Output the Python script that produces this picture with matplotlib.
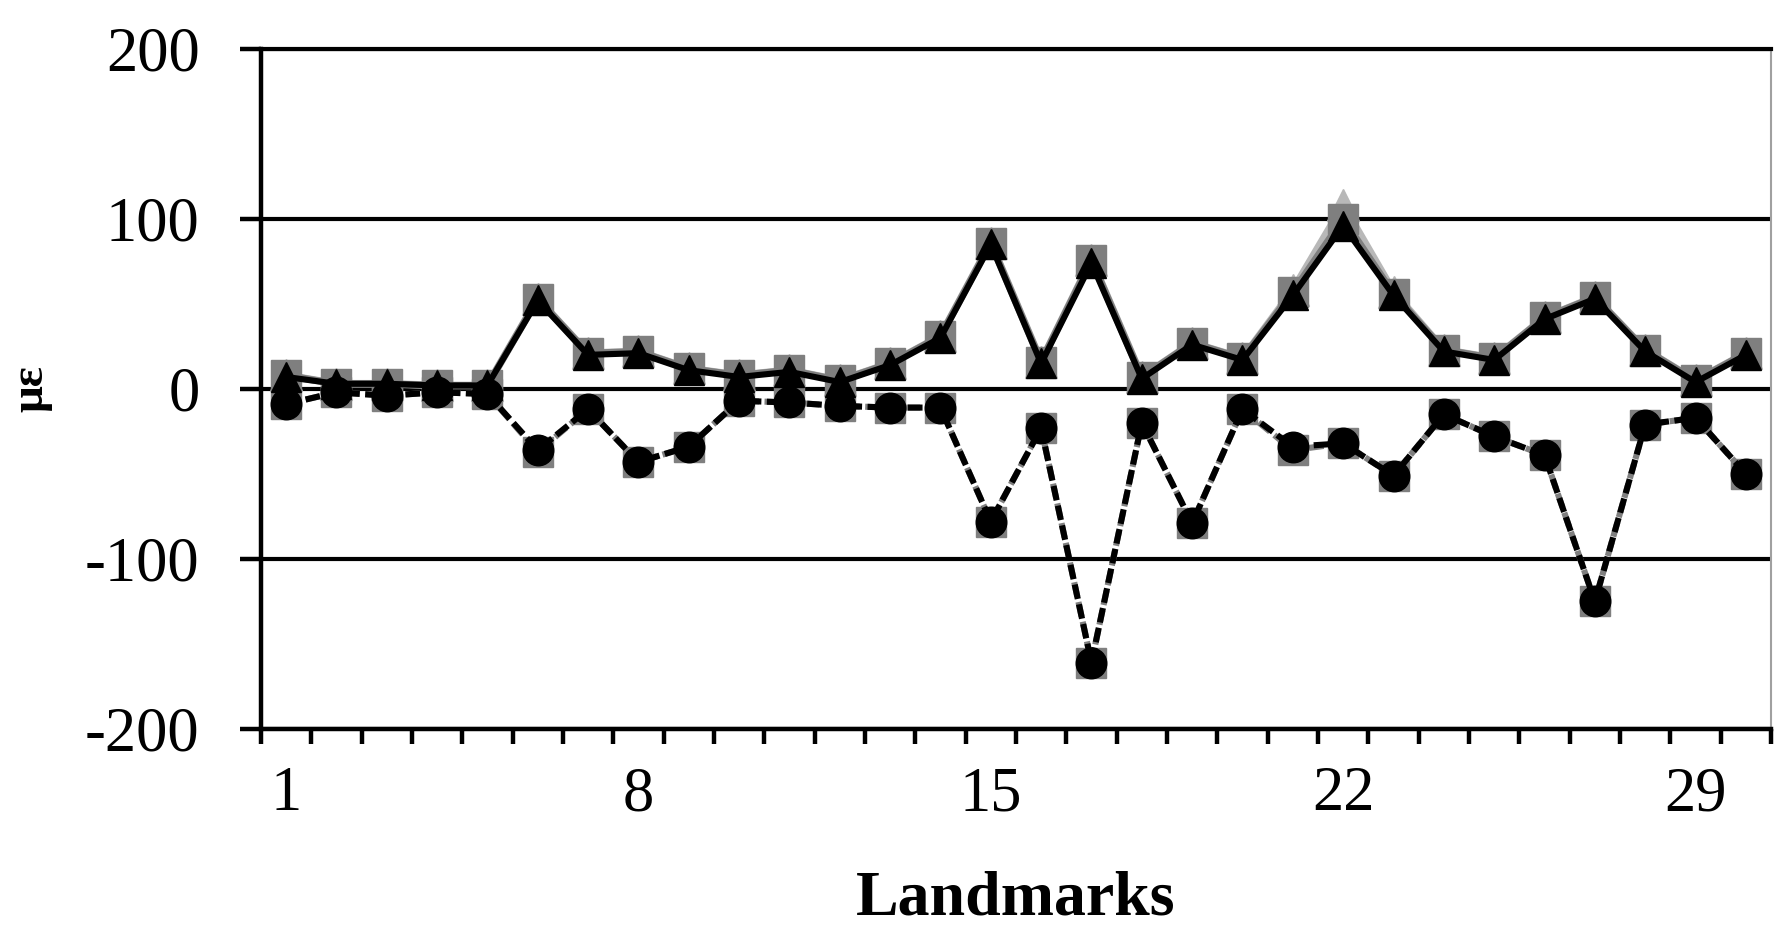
import matplotlib.pyplot as plt
import numpy as np

plt.rcParams['font.family'] = 'serif'
plt.rcParams['font.serif'] = ['Liberation Serif', 'DejaVu Serif']

# landmarks 1..30
landmarks = np.arange(1, 31)

# upper series (strain, positive side)
tri_light = [8, 3, 3, 2, 2, 53, 21, 22, 12, 8, 11, 5, 15, 31, 86, 16, 76, 7, 27, 18, 58, 108, 57, 23, 18, 42, 54, 23, 5, 21]
sq_upper = [8, 3, 3, 2, 2, 53, 21, 22, 12, 8, 11, 5, 15, 31, 86, 16, 76, 7, 27, 18, 57, 100, 56, 23, 18, 42, 54, 23, 5, 21]
tri_black = [7, 3, 3, 2, 2, 52, 20, 21, 11, 7, 10, 4, 14, 30, 85, 15, 74, 6, 26, 17, 55, 96, 55, 22, 17, 41, 53, 22, 4, 20]

# lower series (strain, negative side)
sq_lower = [-9, -2, -4, -2, -3, -37, -12, -43, -34, -7, -8, -10, -11, -11, -78, -23, -161, -20, -79, -12, -36, -32, -51, -15, -28, -39, -125, -21, -17, -50]
circ_black = [-9, -2, -4, -2, -3, -36, -12, -43, -34, -7, -8, -10, -11, -11, -78, -23, -161, -20, -79, -12, -34, -32, -51, -15, -28, -39, -125, -21, -17, -50]

xtick_shown = [1, 8, 15, 22, 29]
ytick_vals = [-200, -100, 0, 100, 200]
ytick_labels = ['-200', '-100', '0', '100', '200']

fig = plt.figure(figsize=(17.78, 9.27), dpi=100)
ax = fig.add_axes([0.1467, 0.2136, 0.8494, 0.7338])

dash = (0, (2.4, 0.9))
ax.plot(landmarks, tri_light, color='#b8b8b8', lw=5.5, marker='^', ms=23, zorder=2)
ax.plot(landmarks, sq_upper, color='#7f7f7f', lw=5, marker='s', ms=21, zorder=3)
ax.plot(landmarks, tri_black, color='black', lw=4.4, marker='^', ms=22, zorder=4)
ax.plot(landmarks, sq_lower, color='#7f7f7f', lw=4.4, ls=dash, marker='s', ms=21, zorder=3)
ax.plot(landmarks, circ_black, color='black', lw=4.4, ls=dash, marker='o', ms=22, zorder=4)

ax.set_xlim(0.5, 30.5)
ax.set_ylim(-200, 200)

# ticks between categories, labels on selected landmarks
ax.set_xticks(np.arange(0.5, 31, 1))
ax.set_xticklabels([])
ax.tick_params(axis='x', which='major', direction='out', length=11, width=3.2)
ax.set_xticks(xtick_shown, minor=True)
ax.set_xticklabels([str(t) for t in xtick_shown], minor=True)
ax.tick_params(axis='x', which='minor', length=0, pad=27, labelsize=45)

ax.set_yticks(ytick_vals)
ax.set_yticklabels(ytick_labels)
ax.tick_params(axis='y', direction='out', length=15, width=3.2, pad=29, labelsize=45)

ax.yaxis.grid(True, color='black', lw=3)
ax.set_axisbelow(True)

ax.spines['left'].set_linewidth(3.2)
ax.spines['bottom'].set_linewidth(3.2)
ax.spines['top'].set_linewidth(3)
ax.spines['right'].set_linewidth(1.5)
ax.spines['right'].set_color('#a0a0a0')

ax.set_xlabel('Landmarks', fontsize=46, fontweight='bold')
ax.xaxis.set_label_coords(0.5, -0.272)
ax.xaxis.label.set_va('baseline')

ax.set_ylabel('με', fontsize=34, fontweight='bold')
ax.yaxis.set_label_coords(-0.152, 0.5)
ax.yaxis.label.set_va('center')

fig.savefig('out.png', dpi=100)
